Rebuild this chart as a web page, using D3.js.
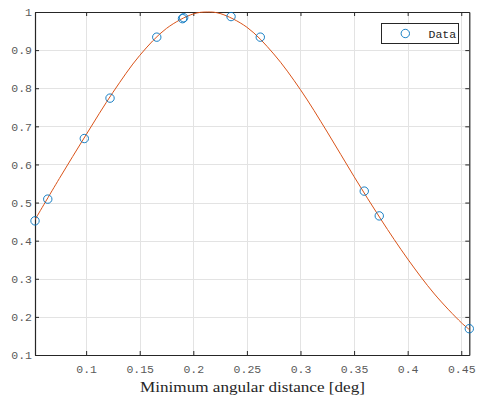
<!DOCTYPE html>
<html><head><meta charset="utf-8">
<script src="https://cdn.jsdelivr.net/npm/d3@7"></script>
<style>html,body{margin:0;padding:0;background:#fff;}svg{display:block;}</style>
</head><body>
<script>
// Measured data points
const distX = [0.0523, 0.0642, 0.0983, 0.1223, 0.1659, 0.1899, 0.1910, 0.2352, 0.2625, 0.3595, 0.3735, 0.4575];
const distY = [0.452, 0.509, 0.668, 0.774, 0.934, 0.9825, 0.985, 0.988, 0.934, 0.530, 0.465, 0.169];
// Fitted curve samples
const fitX = [0.0523, 0.075, 0.1, 0.125, 0.15, 0.175, 0.2, 0.213, 0.225, 0.25, 0.275, 0.3, 0.325, 0.35, 0.375, 0.4, 0.425, 0.45, 0.4575];
const fitY = [0.455, 0.563, 0.678, 0.789, 0.886, 0.957, 0.995, 1.0, 0.996, 0.960, 0.890, 0.796, 0.685, 0.568, 0.456, 0.352, 0.260, 0.185, 0.167];
const xTicks = [0.1, 0.15, 0.2, 0.25, 0.3, 0.35, 0.4, 0.45];
const yTicks = [0.1, 0.2, 0.3, 0.4, 0.5, 0.6, 0.7, 0.8, 0.9, 1];
const xLabel = "Minimum angular distance [deg]";
const legendLabel = "Data";

const W = 484, H = 403;
const L = 35, R = 469.3, T = 12, B = 355;
const svg = d3.select("body").append("svg").attr("width", W).attr("height", H);

const x = d3.scaleLinear().domain([0.0523, 0.4575]).range([L, R]);
const y = d3.scaleLinear().domain([0.1, 1]).range([B, T]);

const axisColor = "#262626", gridColor = "#e3e3e3", labelColor = "#5a5a5a";
const monoFont = "'Liberation Mono', 'DejaVu Sans Mono', monospace";

// grid
const grid = svg.append("g");
grid.selectAll("line.gx").data(xTicks).join("line")
  .attr("x1", d => Math.round(x(d)) + 0.5).attr("x2", d => Math.round(x(d)) + 0.5)
  .attr("y1", T).attr("y2", B).attr("stroke", gridColor).attr("stroke-width", 1);
grid.selectAll("line.gy").data(yTicks).join("line")
  .attr("y1", d => Math.round(y(d)) + 0.5).attr("y2", d => Math.round(y(d)) + 0.5)
  .attr("x1", L).attr("x2", R).attr("stroke", gridColor).attr("stroke-width", 1);

// axes via d3 axis
const fmt = d => String(+d.toFixed(2));
const gx = svg.append("g").attr("transform", `translate(0,${B})`)
  .call(d3.axisBottom(x).tickValues(xTicks).tickFormat(fmt).tickSizeInner(-4).tickSizeOuter(0).tickPadding(9.5));
const gxTop = svg.append("g").attr("transform", `translate(0,${T})`)
  .call(d3.axisTop(x).tickValues(xTicks).tickFormat("").tickSizeInner(-4).tickSizeOuter(0));
const gy = svg.append("g").attr("transform", `translate(${L},0)`)
  .call(d3.axisLeft(y).tickValues(yTicks).tickFormat(fmt).tickSizeInner(-4).tickSizeOuter(0).tickPadding(3));
const gyR = svg.append("g").attr("transform", `translate(${R},0)`)
  .call(d3.axisRight(y).tickValues(yTicks).tickFormat("").tickSizeInner(-4).tickSizeOuter(0));
[gx, gxTop, gy, gyR].forEach(g => {
  g.selectAll("path.domain").attr("stroke", axisColor).attr("stroke-width", 1.2);
  g.selectAll(".tick line").attr("stroke", axisColor).attr("stroke-width", 1);
  g.selectAll("text").attr("fill", labelColor).attr("font-family", monoFont).attr("font-size", 11.5);
});

// clip
svg.append("clipPath").attr("id", "clip").append("rect")
  .attr("x", L).attr("y", T - 2).attr("width", R - L).attr("height", B - T + 2);

// fitted curve
const fitData = fitX.map((v, i) => [v, fitY[i]]);
svg.append("path").datum(fitData)
  .attr("clip-path", "url(#clip)")
  .attr("fill", "none").attr("stroke", "#D95319").attr("stroke-width", 1)
  .attr("d", d3.line().x(d => x(d[0])).y(d => y(d[1])).curve(d3.curveCatmullRom));

// data markers
svg.append("g").selectAll("circle").data(distX.map((v, i) => [v, distY[i]])).join("circle")
  .attr("cx", d => x(d[0])).attr("cy", d => y(d[1])).attr("r", 4.2)
  .attr("fill", "none").attr("stroke", "#0072BD").attr("stroke-width", 0.9);

// x label
svg.append("text").attr("x", 140).attr("y", 391.5)
  .attr("font-family", "'Liberation Serif', 'DejaVu Serif', serif").attr("font-size", 15.5)
  .attr("textLength", 225).attr("lengthAdjust", "spacingAndGlyphs")
  .attr("fill", "#262626").text(xLabel);

// legend
const lg = svg.append("g");
lg.append("rect").attr("x", 381.5).attr("y", 23.5).attr("width", 77).attr("height", 20)
  .attr("fill", "#fff").attr("stroke", axisColor).attr("stroke-width", 1);
lg.append("circle").attr("cx", 405.3).attr("cy", 33.5).attr("r", 4.2)
  .attr("fill", "none").attr("stroke", "#0072BD").attr("stroke-width", 0.9);
lg.append("text").attr("x", 428.5).attr("y", 37.5)
  .attr("font-family", monoFont).attr("font-size", 11.5).attr("fill", "#262626").text(legendLabel);
</script>
</body></html>
